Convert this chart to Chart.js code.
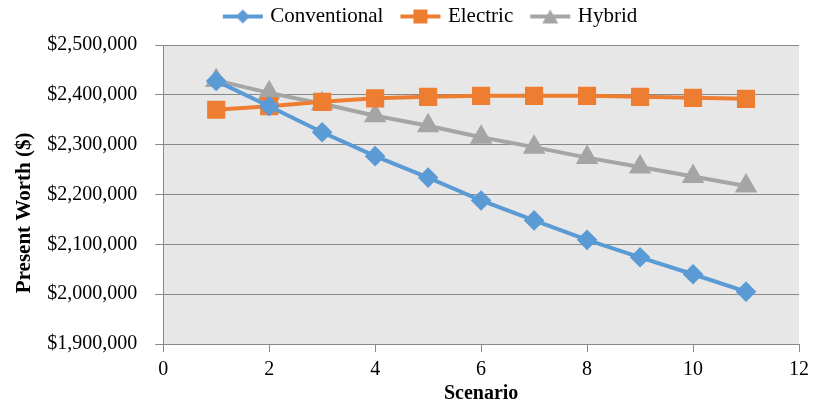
<!DOCTYPE html>
<html>
<head>
<meta charset="utf-8">
<script src="https://cdn.jsdelivr.net/npm/chart.js@4"></script>
<style>
  html, body { margin: 0; padding: 0; background: #fff; }
  #wrap { width: 815px; height: 406px; }
</style>
</head>
<body>
<div id="wrap"><canvas id="chart" width="815" height="406"></canvas></div>
<script>
// Data
const scenarios = [1, 2, 3, 4, 5, 6, 7, 8, 9, 10, 11];
const conventional = [2428000, 2377000, 2325000, 2277000, 2234000, 2188000, 2148000, 2109000, 2074000, 2040000, 2005000];
const electric = [2370000, 2377000, 2386000, 2393000, 2396000, 2398000, 2398000, 2398000, 2396000, 2394000, 2392000];
const hybrid = [2429000, 2404000, 2382000, 2358000, 2338000, 2315000, 2295000, 2274000, 2255000, 2236000, 2217000];

const FONT = "'Liberation Serif', 'Times New Roman', serif";
const colors = { conventional: '#5B9BD5', electric: '#ED7D31', hybrid: '#A5A5A5' };

// legend icon: short line with the marker on it
function legendIcon(color, style) {
  const c = document.createElement('canvas');
  c.width = 42; c.height = 16;
  const g = c.getContext('2d');
  g.strokeStyle = color; g.fillStyle = color; g.lineWidth = 4;
  g.beginPath(); g.moveTo(1, 8); g.lineTo(41, 8); g.stroke();
  g.beginPath();
  if (style === 'diamond') { g.moveTo(21, 1); g.lineTo(28, 8); g.lineTo(21, 15); g.lineTo(14, 8); }
  else if (style === 'square') { g.rect(14, 1, 14, 14); }
  else { g.moveTo(21, 1); g.lineTo(29, 15); g.lineTo(13, 15); }
  g.closePath(); g.fill();
  return c;
}
const icons = [legendIcon(colors.conventional, 'diamond'), legendIcon(colors.electric, 'square'), legendIcon(colors.hybrid, 'triangle')];

const plotBg = {
  id: 'plotBg',
  beforeDraw(chart) {
    const { ctx, chartArea: a } = chart;
    ctx.save();
    ctx.fillStyle = '#E7E7E7';
    ctx.fillRect(a.left, a.top, a.right - a.left, a.bottom - a.top);
    ctx.restore();
  }
};

// trim the legend box height and move it like the original
const legendTweak = {
  id: 'legendTweak',
  beforeUpdate(chart) {
    const lg = chart.legend;
    if (lg && !lg._patched) {
      const fit = lg.fit;
      lg.fit = function () { fit.call(this); this.height -= 6; };
      lg._patched = true;
    }
  },
  afterLayout(chart) {
    const lg = chart.legend;
    lg.left += 22; lg.right += 22;
    lg.top -= 14;
  }
};

function toPoints(ys) {
  return scenarios.map((x, i) => ({ x: x, y: ys[i] }));
}

new Chart(document.getElementById('chart'), {
  type: 'line',
  data: {
    datasets: [
      { label: 'Conventional', data: toPoints(conventional), borderColor: colors.conventional, backgroundColor: colors.conventional,
        borderWidth: 4, pointStyle: 'rectRot', pointRadius: 7.5, pointHoverRadius: 7.5, tension: 0 },
      { label: 'Electric', data: toPoints(electric), borderColor: colors.electric, backgroundColor: colors.electric,
        borderWidth: 4, pointStyle: 'rect', pointRadius: 10, pointHoverRadius: 10, tension: 0 },
      { label: 'Hybrid', data: toPoints(hybrid), borderColor: colors.hybrid, backgroundColor: colors.hybrid,
        borderWidth: 4, pointStyle: 'triangle', pointRadius: 9, pointHoverRadius: 9, tension: 0 }
    ]
  },
  options: {
    responsive: false,
    animation: false,
    layout: { padding: { left: 12, right: 8, top: 0, bottom: 0 } },
    plugins: {
      tooltip: { enabled: false },
      legend: {
        position: 'top',
        labels: {
          font: { family: FONT, size: 21 },
          color: '#000',
          usePointStyle: true,
          pointStyleWidth: 34,
          padding: 20,
          generateLabels(chart) {
            const items = Chart.defaults.plugins.legend.labels.generateLabels(chart);
            items.forEach((it, i) => { it.pointStyle = icons[i]; });
            return items;
          }
        }
      }
    },
    scales: {
      x: {
        type: 'linear',
        min: 0, max: 12,
        ticks: { stepSize: 2, color: '#000', font: { family: FONT, size: 20 }, padding: 6 },
        grid: { drawOnChartArea: false, color: '#888', tickLength: 8 },
        border: { color: '#888', width: 1 },
        title: { display: true, text: 'Scenario', color: '#000', font: { family: FONT, size: 20, weight: 'bold' }, padding: { top: -6, bottom: 0 } }
      },
      y: {
        min: 1900000, max: 2500000,
        ticks: {
          stepSize: 100000, color: '#000', font: { family: FONT, size: 20 }, padding: 18,
          callback: v => '$' + v.toLocaleString('en-US')
        },
        grid: { color: '#888', tickLength: 8 },
        border: { color: '#888', width: 1 },
        title: { display: true, text: 'Present Worth ($)       ', color: '#000', font: { family: FONT, size: 21, weight: 'bold' }, padding: { top: 0, bottom: -8 } }
      }
    }
  },
  plugins: [plotBg, legendTweak]
});
</script>
</body>
</html>
